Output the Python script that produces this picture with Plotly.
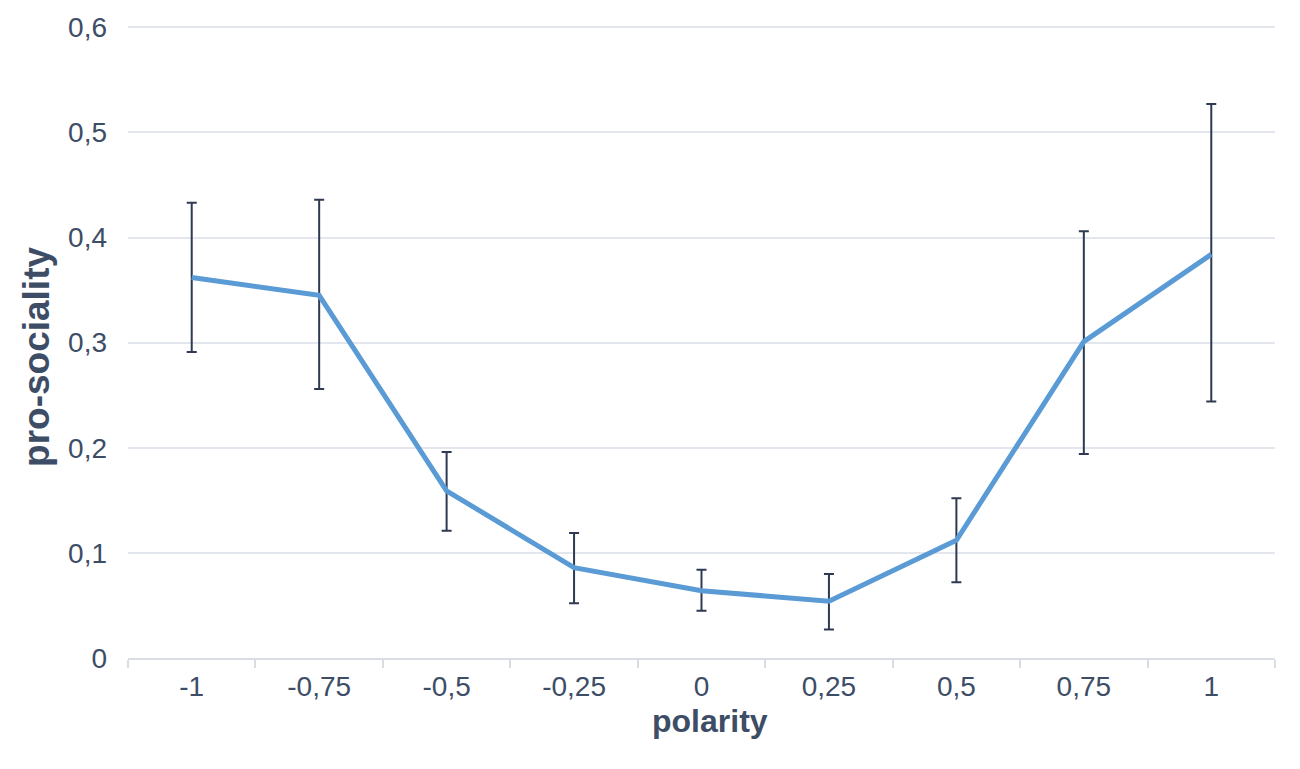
import plotly.graph_objects as go

categories = ["-1", "-0,75", "-0,5", "-0,25", "0", "0,25", "0,5", "0,75", "1"]
prosociality = [0.362, 0.345, 0.159, 0.086, 0.064, 0.054, 0.112, 0.301, 0.384]
err_plus = [0.071, 0.091, 0.037, 0.033, 0.020, 0.026, 0.040, 0.105, 0.143]
err_minus = [0.071, 0.089, 0.038, 0.034, 0.019, 0.027, 0.040, 0.107, 0.140]
y_ticks = [0, 0.1, 0.2, 0.3, 0.4, 0.5, 0.6]
y_ticktext = ["0", "0,1", "0,2", "0,3", "0,4", "0,5", "0,6"]

text_color = "#3d4d66"

# plot area in pixels (for placing axis titles)
L, R, T, B = 128, 25, 24, 111
W, H = 1300, 769
pw, ph = W - L - R, H - T - B

fig = go.Figure()
fig.add_trace(go.Scatter(
    x=categories, y=prosociality, mode="lines",
    line=dict(color="#5b9bd5", width=5),
    error_y=dict(type="data", symmetric=False, array=err_plus, arrayminus=err_minus,
                 color="#2e3a52", thickness=2, width=5),
    showlegend=False,
))

fig.update_layout(
    width=W, height=H,
    margin=dict(l=L, r=R, t=T, b=B),
    paper_bgcolor="white", plot_bgcolor="white",
    separators=",.",
    font=dict(family="Liberation Sans, Arial, Helvetica, sans-serif", color=text_color, size=28),
    xaxis=dict(
        type="category", range=[-0.5, 8.5], tickson="boundaries", ticks="outside", ticklen=8,
        tickcolor="#d8dde6", tickwidth=2, showline=True, linecolor="#d8dde6", linewidth=2,
        showgrid=False, tickfont=dict(size=28, color=text_color),
        ticklabelstandoff=2,
    ),
    yaxis=dict(
        range=[0, 0.6012], tickvals=y_ticks, ticktext=y_ticktext,
        showgrid=True, gridcolor="#e3e6ec", gridwidth=2, zeroline=False, showline=False,
        tickfont=dict(size=28, color=text_color), ticklabelstandoff=20,
    ),
    annotations=[
        dict(text="<b>polarity</b>", xref="paper", yref="paper",
             x=(710 - L) / pw, y=-(721 - (H - B)) / ph,
             xanchor="center", yanchor="middle", showarrow=False,
             font=dict(size=32, color=text_color)),
        dict(text="<b>pro-sociality</b>", xref="paper", yref="paper",
             x=(37 - L) / pw, y=((H - B) - 356) / ph, textangle=-90,
             xanchor="center", yanchor="middle", showarrow=False,
             font=dict(size=37, color=text_color)),
    ],
)

fig.write_html("out.html")
